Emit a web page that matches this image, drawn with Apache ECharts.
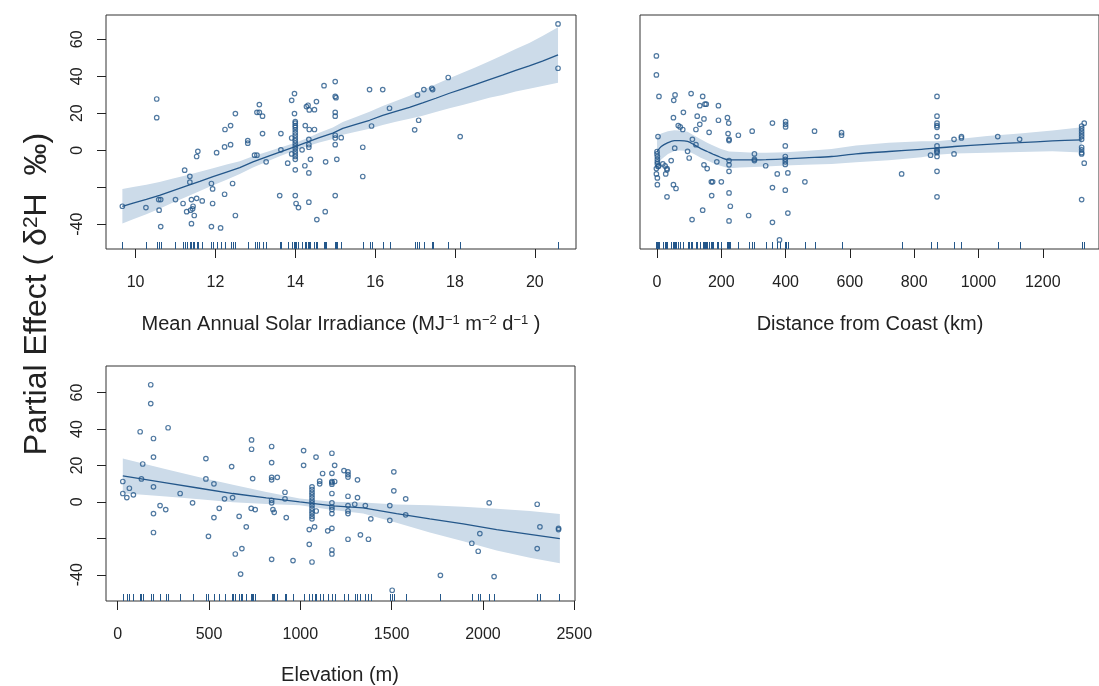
<!DOCTYPE html>
<html><head><meta charset="utf-8">
<script src="https://cdn.jsdelivr.net/npm/echarts@6/dist/echarts.min.js"></script>
<style>html,body{margin:0;padding:0;background:#fff}#c{width:1099px;height:686px}</style>
</head><body><div id="c"></div>
<script>
// ---------- Panel 1: Mean Annual Solar Irradiance ----------
const solarX = [9.67,10.26,10.53,10.53,10.58,10.63,10.59,10.63,11.0,11.19,11.23,11.36,11.36,11.28,11.4,11.38,11.43,11.44,11.47,11.4,11.53,11.67,11.53,11.56,11.93,11.93,11.9,12.03,11.9,12.13,12.23,12.23,12.38,12.24,12.38,12.43,12.5,12.5,12.81,12.81,12.98,13.04,13.1,13.04,13.1,13.18,13.18,13.27,13.61,13.64,13.64,13.81,13.91,13.98,13.98,
  14.0,14.0,14.0,14.0,14.0,14.0,14.0,14.0,14.0,14.0,14.0,14.0,14.0,14.0,14.0,14.0,
  14.0,14.0,14.02,14.08,13.91,13.91,14.17,14.25,14.24,14.28,14.32,14.35,14.48,14.53,14.35,14.48,14.34,14.34,14.34,14.38,14.34,14.34,14.54,14.75,14.76,14.72,15.0,15.0,15.02,15.0,15.0,15.0,15.0,15.0,15.04,15.0,15.15,15.69,15.69,15.86,15.91,16.19,16.36,16.99,17.06,17.09,17.22,17.42,17.44,17.83,18.13,20.58,20.58];
const solarY = [-30.3,-31.0,27.7,17.6,-26.7,-26.7,-32.4,-41.3,-26.7,-28.8,-10.8,-14.1,-17.3,-33.2,-26.7,-32.4,-31.7,-30.3,-35.3,-39.7,-26.0,-27.4,-3.4,-0.6,-28.8,-20.9,-18.0,-1.3,-41.3,-42.0,-23.8,1.8,3.0,11.2,13.3,-18.0,19.8,-35.3,5.2,3.8,-2.7,-2.7,24.7,20.5,20.5,18.4,9.0,-6.3,-24.5,9.0,0.2,-7.0,27.0,30.6,19.8,
  15.5,14.6,13.3,12.4,11.0,9.5,8.1,6.6,5.2,3.8,2.3,0.9,-0.6,-2.0,-3.4,-4.9,
  -10.6,-24.5,-28.8,-31.0,6.6,-2.0,0.2,13.3,-8.4,23.6,24.3,21.8,21.9,26.3,11.2,11.2,5.9,3.0,1.6,-4.9,-12.3,-28.1,-37.5,-33.2,-6.3,34.9,37.1,29.1,28.4,20.5,18.4,8.1,6.6,3.0,-4.9,-24.5,6.8,1.6,-14.2,32.8,13.1,32.8,22.7,11.0,29.9,16.2,32.8,33.5,32.8,39.3,7.4,68.3,44.3];
const solarFitX = [9.67,9.94,10.27,10.6,10.94,11.28,11.61,11.94,12.28,12.61,12.94,13.28,13.61,14.0,14.28,14.6,14.94,15.19,15.52,15.86,16.19,16.52,16.86,17.19,17.52,17.86,18.19,18.52,18.86,19.19,19.52,19.86,20.19,20.58];
const solarFit = [-30.3,-28.6,-26.6,-24.4,-21.8,-19.3,-16.9,-14.3,-11.8,-9.4,-6.3,-3.6,-1.0,2.0,4.2,6.8,9.2,11.8,14.0,16.2,18.8,21.0,23.2,25.6,28.1,30.8,33.2,35.6,38.2,40.6,43.2,45.6,48.2,51.5];
const solarUpper = [-21.0,-19.9,-18.6,-17.2,-15.3,-13.5,-11.7,-9.7,-7.7,-5.9,-3.3,-1.0,1.3,4.0,6.4,9.4,12.3,15.3,18.0,20.8,23.9,26.6,29.4,32.5,35.6,38.9,41.9,44.9,48.1,51.3,54.7,58.0,61.7,66.5];
const solarLower = [-39.6,-37.3,-34.6,-31.6,-28.3,-25.1,-22.1,-18.9,-15.9,-12.9,-9.3,-6.2,-3.3,0.0,2.0,4.2,6.1,8.3,10.0,11.6,13.7,15.4,17.0,18.7,20.6,22.7,24.5,26.3,28.3,29.9,31.7,33.2,34.7,36.5];
const solarTicks = [10,12,14,16,18,20];

// ---------- Panel 2: Distance from Coast ----------
const coastX = [-2,-2,6,3,0,0,1,1,1,1,5,-2,3,-2,1,1,18,25,31,31,27,31,44,51,51,56,52,59,55,66,72,80,82,95,100,106,109,110,121,121,125,133,133,142,146,142,146,156,149,153,162,169,173,170,186,191,191,200,219,223,221,224,224,224,224,224,224,228,224,253,285,296,303,303,303,338,359,359,359,374,381,399,400,400,400,399,399,399,399,399,407,407,460,490,574,574,761,851,
  871,871,871,871,871,871,871,871,871,871,871,871,871,924,924,947,947,1060,1128,
  1321,1321,1321,1321,1321,1321,1321,1321,1321,1321,1321,1329,1329];
const coastY = [51.0,40.7,29.1,7.4,-0.7,-2.0,-3.4,-4.9,-6.3,-7.4,-8.5,-9.9,-8.8,-12.8,-15.0,-18.6,-7.4,-8.5,-9.9,-10.6,-12.8,-25.2,-5.6,17.6,-18.6,29.9,27.0,-20.7,1.1,13.3,12.6,11.2,20.5,-0.6,-4.2,30.6,-37.5,5.9,3.0,11.2,18.4,14.0,24.1,29.1,16.9,-32.4,-7.9,-9.9,24.9,24.9,9.7,-17.1,-17.1,-24.5,-6.3,16.2,24.1,-17.1,17.6,14.7,9.0,5.9,5.2,-5.6,-7.9,-11.4,-23.1,-30.3,-38.2,8.1,-35.3,10.3,-2.0,-4.9,-5.6,-8.4,14.7,-20.2,-39.0,-12.8,-48.5,2.3,15.5,14.0,12.6,-3.4,-4.9,-6.3,-7.7,-21.6,-12.3,-34.0,-17.1,10.3,9.5,8.1,-12.8,-2.7,
  29.1,18.4,14.6,13.3,12.4,7.4,2.3,0.2,-0.6,-1.3,-3.4,-11.4,-25.2,5.9,-2.0,7.4,6.6,7.4,5.9,
  13.1,11.7,10.3,8.8,7.4,5.9,1.6,0.2,-1.3,-2.0,-26.7,14.6,-7.0];
const coastFitX = [0,13,34,54,70,95,115,136,156,176,197,224,258,302,339,400,461,543,619,721,823,871,925,1027,1128,1230,1321];
const coastFit = [-0.7,2.0,4.1,5.2,5.2,4.8,3.0,0.9,-0.7,-2.3,-3.8,-5.2,-5.2,-5.2,-5.1,-4.7,-4.1,-3.4,-2.0,-0.7,0.5,1.2,2.0,3.2,4.1,5.0,5.6];
const coastUpper = [7.3,9.0,10.3,10.8,10.6,10.0,8.0,5.9,4.1,2.4,0.8,-0.7,-1.0,-1.3,-1.4,-1.1,-0.4,0.7,2.5,4.0,4.8,4.8,5.8,7.7,9.1,10.6,12.4];
const coastLower = [-8.7,-5.0,-2.1,-0.4,-0.2,-0.4,-2.0,-4.1,-5.5,-7.0,-8.4,-9.7,-9.4,-9.1,-8.8,-8.3,-7.8,-7.5,-6.5,-5.4,-3.8,-2.4,-1.8,-1.3,-0.9,-0.6,-1.2];
const coastTicks = [0,200,400,600,800,1000,1200];

// ---------- Panel 3: Elevation ----------
const elevX = [28,28,50,64,86,123,130,137,181,181,196,196,196,196,196,232,263,276,342,410,483,483,497,527,527,556,585,624,629,644,665,680,673,704,733,733,739,731,753,843,843,843,843,874,843,843,850,857,843,916,916,923,960,1018,1018,1049,1049,1064,
  1064,1064,1064,1064,1064,1064,1064,1064,1064,1064,1064,1064,1064,
  1078,1087,1086,1106,1106,1122,1150,1173,1173,1173,1173,1173,1173,1173,1173,1173,1173,1173,1173,1173,1188,1188,1239,1261,1261,1261,1313,1261,1313,1261,1298,1261,1261,1261,1329,1356,1373,1386,1490,1490,1512,1512,1503,1577,1577,1767,1939,1974,1983,2034,2061,2297,2297,2312,2414,2414];
const elevY = [11.2,4.6,2.4,7.5,3.9,38.5,12.6,20.8,64.3,54.0,34.8,24.6,8.3,-6.4,-16.8,-2.0,-4.2,40.7,4.6,-0.5,23.8,12.6,-18.9,9.9,-8.6,-3.5,1.7,19.4,2.4,-28.6,-7.9,-25.6,-39.6,-13.7,34.0,28.9,12.8,-3.5,-4.2,30.4,21.6,13.5,12.1,13.5,0.9,-0.5,-4.2,-5.7,-31.5,5.3,1.7,-8.6,-32.2,28.2,20.1,-15.2,-23.3,-33.0,
  8.3,6.8,5.3,3.9,2.4,0.9,-0.5,-2.0,-3.5,-5.0,-6.4,-7.9,-9.3,
  -13.7,-5.0,24.6,11.4,9.9,15.6,-15.9,-14.5,-26.4,-28.6,26.7,15.7,11.2,10.6,9.7,4.6,-0.5,-2.8,-4.2,-6.4,20.1,11.2,17.2,16.5,15.0,13.6,12.1,3.1,2.4,-2.0,-1.3,-5.0,-6.4,-20.5,-18.1,-2.0,-20.5,-9.3,-2.0,-10.1,16.5,6.1,-48.5,1.7,-7.1,-40.3,-22.7,-27.1,-17.4,-0.5,-41.0,-1.3,-25.6,-13.7,-14.5,-15.2];
const elevFitX = [28,265,448,631,814,996,1179,1344,1527,1709,1892,2075,2257,2421];
const elevFit = [14.3,10.4,7.5,4.6,2.2,0.0,-2.2,-3.3,-6.4,-9.3,-12.1,-15.2,-17.8,-20.2];
const elevUpper = [23.8,17.9,13.5,9.4,5.5,1.8,0.1,-0.3,-1.4,-1.8,-2.6,-3.7,-5.0,-6.7];
const elevLower = [4.8,2.9,1.5,-0.2,-1.1,-1.8,-4.5,-6.3,-11.4,-16.8,-21.6,-26.7,-30.6,-33.7];
const elevTicks = [0,500,1000,1500,2000,2500];

// shared y ticks
const yTicks = [-40,-20,0,20,40,60];
const yTickLabels = [-40,0,20,40,60];

const yTitle = 'Partial Effect ( δ{sup|2}H  ‰)';
const xTitles = ['Mean Annual Solar Irradiance (MJ{sup|−1} m{sup|−2} d{sup|−1} )', 'Distance from Coast (km)', 'Elevation (m)'];

// ---------- build ----------
const BLUE = '#24578a';
const BAND = '#ccdbe9';
const TXT = '#222';
const FONT = '"Liberation Sans", Arial, sans-serif';
const zip = (a, b) => a.map((v, i) => [v, b[i]]);

const grids = [
  {left:106, top:15, right:523, bottom:437},
  {left:640, top:15, right:-9, bottom:437},
  {left:106, top:366, right:524, bottom:85}
];
const xRanges = [[9.26, 21.03], [-53, 1375], [-64, 2504]];
const yRanges = [[-53.4, 73.1], [-53.4, 73.1], [-54.4, 74.6]];
const xTickSets = [solarTicks, coastTicks, elevTicks];
const plain = v => String(v);

const xAxes = xRanges.map((r, i) => ({
  gridIndex:i, type:'value', min:r[0], max:r[1],
  axisLine:{show:false, onZero:false}, splitLine:{show:false},
  axisTick:{show:true, length:9, customValues:xTickSets[i], lineStyle:{color:TXT, width:1}},
  axisLabel:{customValues:xTickSets[i], formatter:plain, fontSize:16, fontFamily:FONT, color:TXT, margin:26}
}));
const yAxes = yRanges.map((r, i) => ({
  gridIndex:i, type:'value', min:r[0], max:r[1],
  axisLine:{show:false, onZero:false}, splitLine:{show:false},
  axisTick:{show:i !== 1, length:9, customValues:yTicks, lineStyle:{color:TXT, width:1}},
  axisLabel:{show:i !== 1, customValues:yTickLabels, formatter:plain, rotate:90, fontSize:16, fontFamily:FONT, color:TXT, margin:20}
}));

function band(i, xs, lo, hi) {
  return {type:'custom', xAxisIndex:i, yAxisIndex:i, clip:true, silent:true, z:1,
    data:[[xs[0], lo[0]]],
    renderItem(params, api) {
      const pts = [];
      for (let k = 0; k < xs.length; k++) pts.push(api.coord([xs[k], hi[k]]));
      for (let k = xs.length - 1; k >= 0; k--) pts.push(api.coord([xs[k], lo[k]]));
      return {type:'polygon', shape:{points:pts}, style:{fill:BAND}};
    }};
}
function rug(i, xs) {
  const ymin = yRanges[i][0];
  return {type:'custom', xAxisIndex:i, yAxisIndex:i, clip:true, silent:true, z:3,
    data: xs.map(x => [x, ymin]),
    renderItem(params, api) {
      const p = api.coord([api.value(0), api.value(1)]);
      const x = Math.round(p[0]) + 0.5;
      return {type:'line', shape:{x1:x, y1:p[1], x2:x, y2:p[1] - 7}, style:{stroke:BLUE, lineWidth:1}};
    }};
}
function pts(i, xs, ys) {
  return {type:'scatter', xAxisIndex:i, yAxisIndex:i, silent:true, z:4,
    symbol:'circle', symbolSize:4.5, data:zip(xs, ys),
    itemStyle:{color:'rgba(0,0,0,0)', borderColor:BLUE, borderWidth:1.2}};
}
function fit(i, xs, ys, smooth) {
  return {type:'line', xAxisIndex:i, yAxisIndex:i, silent:true, z:2, showSymbol:false,
    smooth:smooth, data:zip(xs, ys), lineStyle:{color:BLUE, width:1.3}};
}

const sup = {fontSize:13, fontFamily:FONT, verticalAlign:'top', lineHeight:14};
const option = {
  animation:false,
  backgroundColor:'#fff',
  grid: grids.map(g => Object.assign({show:true, borderColor:'#333', borderWidth:1, backgroundColor:'rgba(0,0,0,0)'}, g)),
  xAxis: xAxes,
  yAxis: yAxes,
  series: [
    band(0, solarFitX, solarLower, solarUpper), fit(0, solarFitX, solarFit, false), rug(0, solarX), pts(0, solarX, solarY),
    band(1, coastFitX, coastLower, coastUpper), fit(1, coastFitX, coastFit, 0.3), rug(1, coastX), pts(1, coastX, coastY),
    band(2, elevFitX, elevLower, elevUpper), fit(2, elevFitX, elevFit, false), rug(2, elevX), pts(2, elevX, elevY)
  ],
  graphic: [
    {type:'text', x:37, y:294, rotation:Math.PI/2,
      style:{text:yTitle, fill:TXT, font:'32px ' + FONT, align:'center', verticalAlign:'middle',
        rich:{sup:{fontSize:21, fontFamily:FONT, verticalAlign:'top', fill:TXT}}}},
    {type:'text', x:341, y:324,
      style:{text:xTitles[0], fill:TXT, font:'20px ' + FONT, align:'center', verticalAlign:'middle',
        rich:{sup:Object.assign({fill:TXT}, sup)}}},
    {type:'text', x:870, y:324,
      style:{text:xTitles[1], fill:TXT, font:'20px ' + FONT, align:'center', verticalAlign:'middle'}},
    {type:'text', x:340, y:675,
      style:{text:xTitles[2], fill:TXT, font:'20px ' + FONT, align:'center', verticalAlign:'middle'}}
  ]
};
const chart = echarts.init(document.getElementById('c'), null, {renderer:'canvas'});
chart.setOption(option);
</script>
</body></html>
